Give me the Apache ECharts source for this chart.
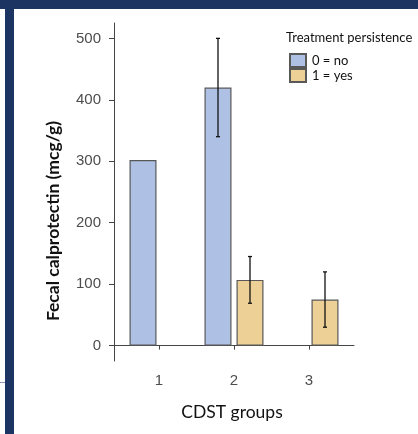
<!DOCTYPE html>
<html>
<head>
<meta charset="utf-8">
<script src="https://cdn.jsdelivr.net/npm/echarts@6/dist/echarts.min.js"></script>
<style>html,body{margin:0;padding:0;background:#fff;}#c{width:418px;height:434px;}</style>
</head>
<body>
<div id="c"></div>
<script>
// Data
const groups = [1, 2, 3];
const groupLabels = ['1', '2', '3'];
const yTicks = [0, 100, 200, 300, 400, 500];
const noMean = [302, 420, null];
const noLow = [null, 340, null];
const noHigh = [null, 500, null];
const yesMean = [null, 107, 75];
const yesLow = [null, 69, 30];
const yesHigh = [null, 145, 120];
const seriesNames = ['0 = no', '1 = yes'];
const xTitle = 'CDST groups';
const yTitle = 'Fecal calprotectin (mcg/g)';
const legendTitle = 'Treatment persistence';

const BW = 27, GAP = 5, OFF = (BW + GAP) / 2;
const blue = '#aec1e5', tan = '#edd095', edge = '#585858';

function pairs(vals) {
  const out = [];
  groups.forEach((g, i) => { if (vals[i] != null) out.push([g, vals[i]]); });
  return out;
}
function errData(lo, hi) {
  const out = [];
  groups.forEach((g, i) => { if (lo[i] != null) out.push([g, lo[i], hi[i]]); });
  return out;
}
function errSeries(lo, hi, dx) {
  return {
    type: 'custom',
    data: errData(lo, hi),
    encode: { x: 0, y: [1, 2] },
    z: 10,
    silent: true,
    renderItem: function (params, api) {
      const x = api.value(0);
      const a = api.coord([x, api.value(1)]);
      const b = api.coord([x, api.value(2)]);
      const cx = a[0] + dx;
      const cap = 2;
      const st = { stroke: '#111', lineWidth: 1.3 };
      return {
        type: 'group',
        children: [
          { type: 'line', shape: { x1: cx, y1: a[1], x2: cx, y2: b[1] }, style: st },
          { type: 'line', shape: { x1: cx - cap, y1: a[1], x2: cx + cap, y2: a[1] }, style: st },
          { type: 'line', shape: { x1: cx - cap, y1: b[1], x2: cx + cap, y2: b[1] }, style: st }
        ]
      };
    }
  };
}

const chart = echarts.init(document.getElementById('c'), null, { renderer: 'canvas' });
chart.setOption({
  backgroundColor: '#fff',
  animation: false,
  grid: { left: 114, right: 64, top: 23, bottom: 73 },
  title: {
    text: legendTitle,
    left: 281, top: 26,
    textStyle: { fontFamily: 'Lato', fontSize: 13, fontWeight: 'normal', color: '#111' }
  },
  legend: {
    orient: 'vertical',
    left: 284, top: 48,
    itemWidth: 16, itemHeight: 13, itemGap: 0,
    icon: 'rect',
    data: seriesNames,
    textStyle: { fontFamily: 'Lato', fontSize: 13, color: '#111', padding: [0, 0, 0, 1] }
  },
  xAxis: {
    type: 'value',
    min: 0.4, max: 3.6,
    splitLine: { show: false },
    axisLine: { show: true, lineStyle: { color: '#444', width: 1 } },
    axisTick: { show: true, length: 4, customValues: groups, lineStyle: { color: '#444' } },
    axisLabel: {
      customValues: groups,
      margin: 12,
      fontFamily: 'Liberation Sans', fontSize: 15, color: '#4d4d4d',
      formatter: function (v) { return groupLabels[groups.indexOf(v)]; }
    }
  },
  yAxis: {
    type: 'value',
    min: -25, max: 525,
    splitLine: { show: false },
    axisLine: { show: true, lineStyle: { color: '#444', width: 1 } },
    axisTick: { show: true, length: 5, customValues: yTicks, lineStyle: { color: '#444' } },
    axisLabel: {
      customValues: yTicks,
      margin: 13,
      fontFamily: 'Liberation Sans', fontSize: 15, color: '#4d4d4d'
    }
  },
  series: [
    {
      name: seriesNames[0], type: 'bar', data: pairs(noMean),
      barWidth: BW, barGap: (GAP / BW * 100).toFixed(1) + '%',
      itemStyle: { color: blue, borderColor: edge, borderWidth: 1.2 }
    },
    {
      name: seriesNames[1], type: 'bar', data: pairs(yesMean),
      barWidth: BW,
      itemStyle: { color: tan, borderColor: edge, borderWidth: 1.2 }
    },
    errSeries(noLow, noHigh, -OFF),
    errSeries(yesLow, yesHigh, OFF)
  ],
  graphic: [
    { type: 'rect', shape: { x: 0, y: 0, width: 418, height: 9 }, style: { fill: '#1b3462' }, silent: true },
    { type: 'rect', shape: { x: 5, y: 0, width: 9, height: 434 }, style: { fill: '#1b3462' }, silent: true },
    { type: 'line', shape: { x1: 0, y1: 382.5, x2: 5, y2: 382.5 }, style: { stroke: '#8a93b5', lineWidth: 1 }, silent: true },
    {
      type: 'text', x: 232, y: 412, silent: true,
      style: { text: xTitle, font: '17.5px Lato', fill: '#111', align: 'center', verticalAlign: 'middle' }
    },
    {
      type: 'text', x: 53, y: 221, rotation: Math.PI / 2, silent: true,
      style: { text: yTitle, font: 'bold 17.5px Lato', fill: '#111', align: 'center', verticalAlign: 'middle' }
    }
  ]
});
</script>
</body>
</html>
